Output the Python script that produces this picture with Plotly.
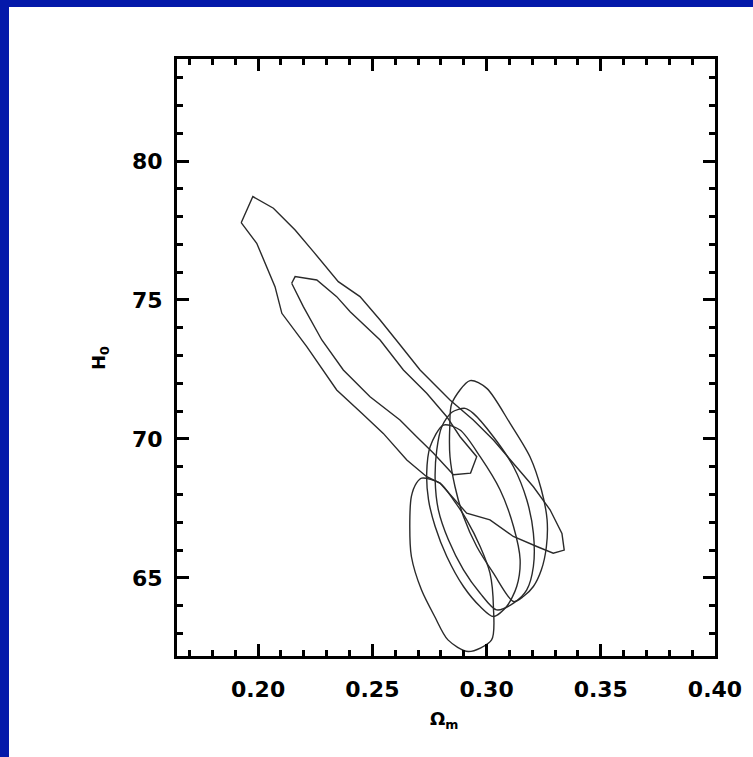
import plotly.graph_objects as go

# ---- data ----
outer_x = [0.1926, 0.1977, 0.2067, 0.2162, 0.2242, 0.2351, 0.2446, 0.2534, 0.2614, 0.2709, 0.2840,
           0.2942, 0.3030, 0.3117, 0.3205, 0.3278, 0.3330, 0.3340, 0.3292, 0.3220, 0.3117, 0.3015,
           0.2913, 0.2796, 0.2738, 0.2651, 0.2548, 0.2454, 0.2344, 0.2213, 0.2104, 0.2074, 0.1994, 0.1926]
outer_y = [77.78, 78.72, 78.30, 77.52, 76.74, 75.66, 75.12, 74.28, 73.46, 72.48, 71.40,
           70.68, 69.96, 69.13, 68.28, 67.45, 66.60, 66.00, 65.89, 66.13, 66.49, 67.09,
           67.33, 68.41, 68.64, 69.24, 70.20, 70.92, 71.76, 73.32, 74.52, 75.48, 77.04, 77.78]

inner_x = [0.2147, 0.2162, 0.2257, 0.2344, 0.2403, 0.2534, 0.2636, 0.2738, 0.2826, 0.2884, 0.2957,
           0.2930, 0.2855, 0.2767, 0.2694, 0.2621, 0.2490, 0.2373, 0.2279, 0.2198, 0.2147]
inner_y = [75.60, 75.84, 75.72, 75.12, 74.58, 73.56, 72.48, 71.64, 70.80, 70.08, 69.36,
           68.77, 68.71, 69.49, 70.08, 70.68, 71.52, 72.48, 73.56, 74.76, 75.60]

t1_x = [0.2928, 0.3001, 0.3103, 0.3190, 0.3240, 0.3265, 0.3262, 0.3240, 0.3205, 0.3161, 0.3118,
        0.3030, 0.2957, 0.2899, 0.2862, 0.2840, 0.2839, 0.2848, 0.2928]
t1_y = [72.10, 71.82, 70.56, 69.36, 68.17, 67.09, 66.13, 65.29, 64.69, 64.33, 64.15,
        65.17, 66.13, 67.21, 68.28, 69.36, 70.44, 71.28, 72.10]

t2_x = [0.2906, 0.2942, 0.3030, 0.3118, 0.3176, 0.3205, 0.3205, 0.3176, 0.3118, 0.3044, 0.2972,
        0.2899, 0.2833, 0.2789, 0.2775, 0.2782, 0.2804, 0.2848, 0.2906]
t2_y = [71.10, 70.92, 70.08, 69.00, 67.81, 66.61, 65.41, 64.57, 64.09, 63.85, 64.45,
        65.29, 66.37, 67.45, 68.53, 69.60, 70.44, 70.96, 71.10]

t3_x = [0.2811, 0.2884, 0.2972, 0.3059, 0.3118, 0.3147, 0.3132, 0.3088, 0.3030, 0.2972, 0.2899,
        0.2826, 0.2775, 0.2746, 0.2738, 0.2753, 0.2811]
t3_y = [70.50, 70.32, 69.36, 68.17, 66.85, 65.65, 64.69, 63.97, 63.61, 63.97, 64.69,
        65.77, 66.85, 67.81, 68.77, 69.72, 70.50]

e1_x = [0.2716, 0.2796, 0.2855, 0.2913, 0.2972, 0.3015, 0.3030, 0.3022, 0.2920, 0.2831, 0.2773,
        0.2715, 0.2671, 0.2664, 0.2671, 0.2693, 0.2716]
e1_y = [68.59, 68.41, 67.81, 67.09, 66.13, 65.17, 63.97, 62.77, 62.35, 62.77, 63.61,
        64.57, 65.77, 66.85, 67.93, 68.41, 68.59]

x_ticks = [0.20, 0.25, 0.30, 0.35, 0.40]
x_ticklabels = ["0.20", "0.25", "0.30", "0.35", "0.40"]
y_ticks = [65, 70, 75, 80]
y_ticklabels = ["65", "70", "75", "80"]

LINE = dict(color="#2a2a2a", width=1.4)

fig = go.Figure()
fig.add_trace(go.Scatter(x=outer_x, y=outer_y, mode="lines", line=LINE, hoverinfo="skip"))
fig.add_trace(go.Scatter(x=inner_x, y=inner_y, mode="lines", line=LINE, hoverinfo="skip"))
for xs, ys in [(t1_x, t1_y), (t2_x, t2_y), (t3_x, t3_y), (e1_x, e1_y)]:
    fig.add_trace(go.Scatter(x=xs, y=ys, mode="lines",
                             line=dict(color="#2a2a2a", width=1.4, shape="spline", smoothing=0.8),
                             hoverinfo="skip"))

FAMILY = "DejaVu Sans, Liberation Sans, Arial, sans-serif"
FONT = dict(family=FAMILY, size=22, color="black", weight="bold")

axis_common = dict(
    showline=True, linecolor="black", linewidth=3, mirror="allticks",
    ticks="inside", ticklen=12, tickwidth=2.5, tickcolor="black",
    showgrid=False, zeroline=False, tickfont=FONT,
)
fig.update_xaxes(range=[0.1645, 0.40], tickvals=x_ticks, ticktext=x_ticklabels,
                 minor=dict(dtick=0.01, tick0=0.0, ticks="inside", ticklen=6, tickwidth=2.5, tickcolor="black"),
                 ticklabelstandoff=12, **axis_common)
fig.update_yaxes(range=[62.19, 83.67], tickvals=y_ticks, ticktext=y_ticklabels,
                 minor=dict(dtick=1, tick0=0, ticks="inside", ticklen=6, tickwidth=2.5, tickcolor="black"),
                 ticklabelstandoff=7, **axis_common)

W, H = 753, 757
L, R, T, B = 177, 38, 59, 101
pw, ph = W - L - R, H - T - B

def px2paper_x(p):
    return (p - L) / pw

def py2paper_y(p):
    return (H - B - p) / ph

TITLE_FONT = dict(family=FAMILY, size=18, color="black", weight="bold")

fig.update_layout(
    width=W, height=H, margin=dict(l=L, r=R, t=T, b=B),
    paper_bgcolor="white", plot_bgcolor="white", showlegend=False,
    shapes=[
        dict(type="rect", xref="paper", yref="paper", layer="above",
             x0=px2paper_x(0), x1=px2paper_x(W), y0=py2paper_y(7), y1=py2paper_y(0),
             fillcolor="#0419aa", line=dict(width=0)),
        dict(type="rect", xref="paper", yref="paper", layer="above",
             x0=px2paper_x(0), x1=px2paper_x(9), y0=py2paper_y(H), y1=py2paper_y(0),
             fillcolor="#0419aa", line=dict(width=0)),
    ],
    annotations=[
        dict(text="Ω<sub>m</sub>", xref="paper", yref="paper", x=px2paper_x(444), y=py2paper_y(720),
             xanchor="center", yanchor="middle", showarrow=False, font=TITLE_FONT),
        dict(text="H<sub>0</sub>", xref="paper", yref="paper", x=px2paper_x(100), y=py2paper_y(358),
             xanchor="center", yanchor="middle", showarrow=False, textangle=-90, font=TITLE_FONT),
    ],
)

fig.write_html("out.html", config={"displayModeBar": False},
               post_script="document.body.style.margin='0';document.body.style.overflow='hidden';")
